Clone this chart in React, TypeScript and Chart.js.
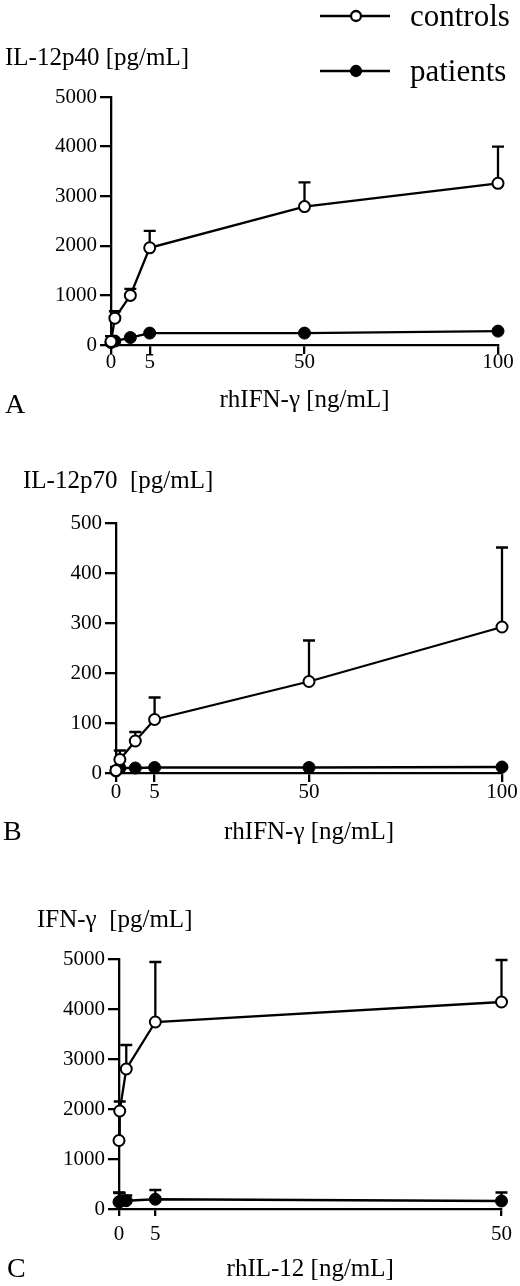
import { useEffect, useRef } from "react"
import { Chart, LinearScale, registerables } from "chart.js"

Chart.register(...registerables)

const SERIF = "'Liberation Serif', 'Times New Roman', serif"

// doses on the x axes
const ifnDoses = [0, 0.5, 2.5, 5, 50, 100]
const il12Doses = [0, 0.1, 1, 5, 50]
const ifnDoseTicks = [0, 5, 50, 100]
const il12DoseTicks = [0, 5, 50]

// A: IL-12p40 (mean and top of the SD bar)
const p40Controls = [70, 540, 1000, 1960, 2790, 3260]
const p40ControlsUpper = [180, 680, 1130, 2300, 3280, 4000]
const p40Patients = [50, 80, 150, 240, 240, 280]

// B: IL-12p70
const p70Controls = [5, 27, 64, 107, 183, 292]
const p70ControlsUpper = [12, 45, 82, 151, 265, 451]
const p70Patients = [4, 10, 10, 11, 11, 12]

// C: IFN-gamma
const ifnControls = [1370, 1960, 2800, 3740, 4140]
const ifnControlsUpper = [null, 2150, 3280, 4940, 4980]
const ifnPatients = [140, 150, 165, 195, 160]
const ifnPatientsUpper = [330, 320, 270, 380, 330]

const yTicksA = [0, 1000, 2000, 3000, 4000, 5000]
const yTicksB = [0, 100, 200, 300, 400, 500]
const yTicksC = [0, 1000, 2000, 3000, 4000, 5000]

const LINE = 2.3

// x axis in the figure is not linear: 0-5 is stretched
class DoseScale extends LinearScale {
  static id = "dose"

  toDecimal(value: number) {
    const knots: number[] = (this.options as any).knots
    const fracs: number[] = (this.options as any).fractions
    if (!knots) return (value - this.min) / (this.max - this.min)
    let i = 1
    while (i < knots.length - 1 && value > knots[i]) i++
    const t = (value - knots[i - 1]) / (knots[i] - knots[i - 1])
    return fracs[i - 1] + t * (fracs[i] - fracs[i - 1])
  }

  getPixelForValue(value: number) {
    return this.getPixelForDecimal(this.toDecimal(value))
  }

  getValueForPixel(pixel: number) {
    const d = this.getDecimalForPixel(pixel)
    const knots: number[] = (this.options as any).knots
    const fracs: number[] = (this.options as any).fractions
    if (!knots) return this.min + d * (this.max - this.min)
    let i = 1
    while (i < fracs.length - 1 && d > fracs[i]) i++
    const t = (d - fracs[i - 1]) / (fracs[i] - fracs[i - 1])
    return knots[i - 1] + t * (knots[i] - knots[i - 1])
  }
}
Chart.register(DoseScale)

const errorBars = {
  id: "errorBars",
  beforeDatasetsDraw(chart: any) {
    const ctx = chart.ctx
    chart.data.datasets.forEach((ds: any, i: number) => {
      if (!ds.upper) return
      const meta = chart.getDatasetMeta(i)
      const xs = chart.scales[meta.xAxisID]
      const ys = chart.scales[meta.yAxisID]
      ctx.save()
      ctx.strokeStyle = "#000"
      ctx.lineWidth = LINE
      ds.data.forEach((pt: any, j: number) => {
        const top = ds.upper[j]
        if (top == null) return
        const px = xs.getPixelForValue(pt.x)
        const py = ys.getPixelForValue(pt.y)
        const pt2 = ys.getPixelForValue(top)
        ctx.beginPath()
        ctx.moveTo(px, py)
        ctx.lineTo(px, pt2)
        ctx.moveTo(px - 6, pt2)
        ctx.lineTo(px + 6, pt2)
        ctx.stroke()
      })
      ctx.restore()
    })
  },
}

type PanelProps = {
  top: number
  height: number
  area: { left: number; right: number; top: number; bottom: number }
  doses: number[]
  doseTicks: number[]
  knots: number[]
  fractions: number[]
  controls: number[]
  controlsUpper: (number | null)[]
  patients: number[]
  patientsUpper?: (number | null)[]
  yTicks: number[]
  yTitle: { text: string; x: number; y: number }
  xTitle: string
  xTitleBottom: number
  xTickLength: number
  xTickPadding: number
  letter: { text: string; x: number; y: number }
  legend?: boolean
}

function Panel(p: PanelProps) {
  const chartRef = useRef<HTMLCanvasElement>(null)
  const chartInstance = useRef<Chart | null>(null)

  useEffect(() => {
    if (!chartRef.current) return
    if (chartInstance.current) chartInstance.current.destroy()
    const ctx = chartRef.current.getContext("2d")
    if (!ctx) return

    const labels = {
      id: "panelText",
      afterDraw(chart: any) {
        const c = chart.ctx
        c.save()
        c.fillStyle = "#000"
        c.textBaseline = "alphabetic"
        c.textAlign = "left"
        c.font = `25px ${SERIF}`
        c.fillText(p.yTitle.text, p.yTitle.x, p.yTitle.y)
        c.font = `28px ${SERIF}`
        c.fillText(p.letter.text, p.letter.x, p.letter.y)
        if (p.legend) {
          const rows = [
            { label: chart.data.datasets[0].label, y: 16, fill: "#fff" },
            { label: chart.data.datasets[1].label, y: 71, fill: "#000" },
          ]
          rows.forEach((r) => {
            c.strokeStyle = "#000"
            c.lineWidth = LINE
            c.beginPath()
            c.moveTo(320, r.y)
            c.lineTo(390, r.y)
            c.stroke()
            c.beginPath()
            c.arc(356, r.y, 5, 0, Math.PI * 2)
            c.fillStyle = r.fill
            c.fill()
            c.stroke()
            c.fillStyle = "#000"
            c.font = `31px ${SERIF}`
            c.fillText(r.label, 410, r.y + 10)
          })
        }
        c.restore()
      },
    }

    chartInstance.current = new Chart(ctx, {
      type: "line",
      data: {
        datasets: [
          {
            label: "controls",
            data: p.doses.map((d, i) => ({ x: d, y: p.controls[i] })),
            upper: p.controlsUpper,
            borderColor: "#000",
            borderWidth: LINE,
            pointRadius: 5.5,
            pointBorderWidth: 2,
            pointBackgroundColor: "#fff",
            pointBorderColor: "#000",
            clip: false,
          } as any,
          {
            label: "patients",
            data: p.doses.map((d, i) => ({ x: d, y: p.patients[i] })),
            upper: p.patientsUpper,
            borderColor: "#000",
            borderWidth: LINE,
            pointRadius: 6,
            pointBorderWidth: 1,
            pointBackgroundColor: "#000",
            pointBorderColor: "#000",
            clip: false,
          } as any,
        ],
      },
      options: {
        animation: false,
        responsive: false,
        devicePixelRatio: 1,
        layout: {
          padding: { left: 0, top: p.area.top, right: 520 - p.area.right, bottom: 0 },
        },
        plugins: { legend: { display: false }, tooltip: { enabled: false } },
        scales: {
          x: {
            type: "dose" as any,
            min: 0,
            max: p.doseTicks[p.doseTicks.length - 1],
            knots: p.knots,
            fractions: p.fractions,
            afterBuildTicks: (scale: any) => {
              scale.ticks = p.doseTicks.map((v) => ({ value: v }))
            },
            afterFit: (scale: any) => {
              scale.height = p.height - p.area.bottom
            },
            grid: {
              drawOnChartArea: false,
              drawTicks: true,
              tickLength: p.xTickLength,
              color: "#000",
              lineWidth: LINE,
            },
            border: { display: true, color: "#000", width: LINE },
            ticks: {
              color: "#000",
              padding: p.xTickPadding,
              maxRotation: 0,
              autoSkip: false,
              callback: (v: any) => String(v),
              font: { family: SERIF, size: 21, lineHeight: 1 },
            },
            title: {
              display: true,
              text: p.xTitle,
              color: "#000",
              font: { family: SERIF, size: 25, lineHeight: 1 },
              padding: { top: 0, bottom: p.xTitleBottom },
            },
          } as any,
          y: {
            type: "linear",
            min: p.yTicks[0],
            max: p.yTicks[p.yTicks.length - 1],
            afterBuildTicks: (scale: any) => {
              scale.ticks = p.yTicks.map((v) => ({ value: v }))
            },
            afterFit: (scale: any) => {
              scale.width = p.area.left
            },
            grid: {
              drawOnChartArea: false,
              drawTicks: true,
              tickLength: 11,
              color: "#000",
              lineWidth: LINE,
            },
            border: { display: true, color: "#000", width: LINE },
            ticks: {
              color: "#000",
              padding: 3,
              callback: (v: any) => String(v),
              font: { family: SERIF, size: 21, lineHeight: 1 },
            },
          },
        },
      },
      plugins: [errorBars, labels],
    })

    return () => {
      if (chartInstance.current) {
        chartInstance.current.destroy()
        chartInstance.current = null
      }
    }
  }, [])

  return (
    <canvas
      ref={chartRef}
      width={520}
      height={p.height}
      style={{ position: "absolute", left: 0, top: p.top, width: 520, height: p.height }}
    />
  )
}

export default function App() {
  return (
    <div style={{ position: "absolute", left: 0, top: 0, width: 520, height: 1286, background: "#fff" }}>
      <Panel
        top={0}
        height={420}
        area={{ left: 111, right: 498, top: 97, bottom: 345 }}
        doses={ifnDoses}
        doseTicks={ifnDoseTicks}
        knots={[0, 5, 50, 100]}
        fractions={[0, 0.1, 0.5, 1]}
        controls={p40Controls}
        controlsUpper={p40ControlsUpper}
        patients={p40Patients}
        yTicks={yTicksA}
        yTitle={{ text: "IL-12p40 [pg/mL]", x: 5, y: 65 }}
        xTitle="rhIFN-γ [ng/mL]"
        xTitleBottom={7}
        xTickLength={9}
        xTickPadding={-2}
        letter={{ text: "A", x: 5, y: 413 }}
        legend
      />
      <Panel
        top={420}
        height={440}
        area={{ left: 116, right: 502, top: 103, bottom: 353 }}
        doses={ifnDoses}
        doseTicks={ifnDoseTicks}
        knots={[0, 5, 50, 100]}
        fractions={[0, 0.1, 0.5, 1]}
        controls={p70Controls}
        controlsUpper={p70ControlsUpper}
        patients={p70Patients}
        yTicks={yTicksB}
        yTitle={{ text: "IL-12p70  [pg/mL]", x: 23, y: 68 }}
        xTitle="rhIFN-γ [ng/mL]"
        xTitleBottom={15}
        xTickLength={9}
        xTickPadding={0}
        letter={{ text: "B", x: 3, y: 420 }}
      />
      <Panel
        top={860}
        height={426}
        area={{ left: 119, right: 502, top: 99, bottom: 349 }}
        doses={il12Doses}
        doseTicks={il12DoseTicks}
        knots={[0, 5, 50]}
        fractions={[0, 0.095, 1]}
        controls={ifnControls}
        controlsUpper={ifnControlsUpper}
        patients={ifnPatients}
        patientsUpper={ifnPatientsUpper}
        yTicks={yTicksC}
        yTitle={{ text: "IFN-γ  [pg/mL]", x: 37, y: 67 }}
        xTitle="rhIL-12 [ng/mL]"
        xTitleBottom={4}
        xTickLength={7}
        xTickPadding={8}
        letter={{ text: "C", x: 7, y: 417 }}
      />
    </div>
  )
}
